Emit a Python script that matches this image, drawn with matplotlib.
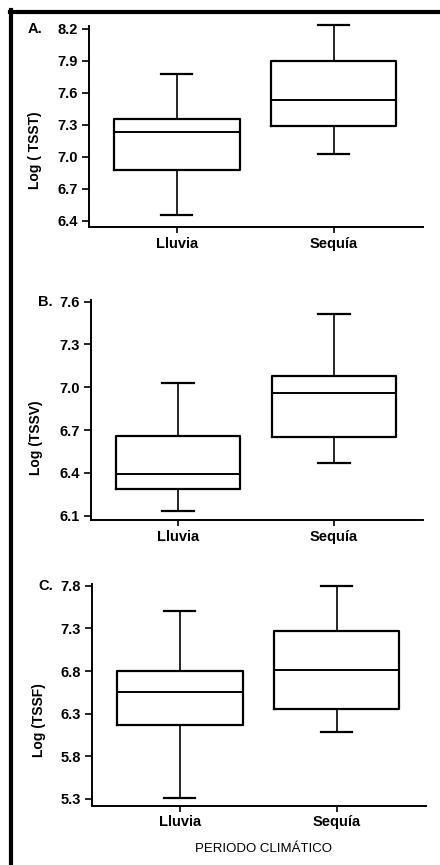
import matplotlib
matplotlib.use("Agg")
import matplotlib.pyplot as plt
from matplotlib.transforms import blended_transform_factory
from matplotlib.lines import Line2D

plt.rcParams["font.family"] = ["Liberation Sans", "DejaVu Sans"]

categories = ["Lluvia", "Sequía"]

# A. Log (TSST)
tsst_whislo = [6.45, 7.02]
tsst_q1 = [6.87, 7.29]
tsst_med = [7.23, 7.53]
tsst_q3 = [7.35, 7.90]
tsst_whishi = [7.77, 8.23]
tsst_ticks = [6.4, 6.7, 7.0, 7.3, 7.6, 7.9, 8.2]

# B. Log (TSSV)
tssv_whislo = [6.135, 6.47]
tssv_q1 = [6.285, 6.65]
tssv_med = [6.39, 6.96]
tssv_q3 = [6.66, 7.08]
tssv_whishi = [7.03, 7.51]
tssv_ticks = [6.1, 6.4, 6.7, 7.0, 7.3, 7.6]

# C. Log (TSSF)
tssf_whislo = [5.31, 6.08]
tssf_q1 = [6.165, 6.36]
tssf_med = [6.56, 6.81]
tssf_q3 = [6.80, 7.27]
tssf_whishi = [7.50, 7.80]
tssf_ticks = [5.3, 5.8, 6.3, 6.8, 7.3, 7.8]

paneles = [
    ("A.", "Log ( TSST)", tsst_whislo, tsst_q1, tsst_med, tsst_q3, tsst_whishi, tsst_ticks, (6.34, 8.22)),
    ("B.", "Log (TSSV)", tssv_whislo, tssv_q1, tssv_med, tssv_q3, tssv_whishi, tssv_ticks, (6.07, 7.61)),
    ("C.", "Log (TSSF)", tssf_whislo, tssf_q1, tssf_med, tssf_q3, tssf_whishi, tssf_ticks, (5.22, 7.82)),
]

# Achsenpositionen in Pixeln: links, rechts, oben, unten
W, H = 440, 865
rects_px = [(89, 423, 26.4, 227), (90.7, 423, 300.2, 520), (92, 426, 584.2, 805.7)]
letra_x = [-0.162, -0.138, -0.138]
ylabel_pos = [(-0.162, 0.384), (-0.165, 0.373), (-0.158, 0.388)]

fig = plt.figure(figsize=(4.4, 8.65), dpi=100)

for i, (letra, ylab, lo, q1, med, q3, hi, ticks, ylim) in enumerate(paneles):
    l, r, t, b = rects_px[i]
    ax = fig.add_axes([l / W, 1 - b / H, (r - l) / W, (b - t) / H])

    stats = []
    for j, cat in enumerate(categories):
        stats.append({"label": cat, "whislo": lo[j], "q1": q1[j], "med": med[j],
                      "q3": q3[j], "whishi": hi[j], "fliers": []})

    parts = ax.bxp(stats, positions=[1, 2], widths=0.8, capwidths=0.2, showfliers=False,
                   boxprops=dict(color="black", linewidth=1.6),
                   medianprops=dict(color="black", linewidth=1.4),
                   whiskerprops=dict(color="black", linewidth=1.2),
                   capprops=dict(color="black", linewidth=1.6))
    for key in parts:
        for art in parts[key]:
            art.set_clip_on(False)

    ax.set_xlim(0.44, 2.57)
    ax.set_ylim(*ylim)
    ax.set_yticks(ticks)
    ax.set_yticklabels([f"{v:.1f}" for v in ticks])
    ax.set_xticks([1, 2])
    ax.set_xticklabels(categories)

    for s in ["top", "right"]:
        ax.spines[s].set_visible(False)
    for s in ["left", "bottom"]:
        ax.spines[s].set_linewidth(1.4)
    ax.tick_params(axis="y", length=5, width=1.2, pad=3, labelsize=10.5)
    ax.tick_params(axis="x", length=4.5, width=1.2, pad=2.5, labelsize=10.5)
    for lab in ax.get_yticklabels() + ax.get_xticklabels():
        lab.set_fontweight("bold")

    ax.set_ylabel(ylab, fontsize=10, fontweight="bold", va="center")
    ax.yaxis.set_label_coords(*ylabel_pos[i])

    trans = blended_transform_factory(ax.transAxes, ax.transData)
    ax.text(letra_x[i], ticks[-1], letra, transform=trans, ha="center", va="center",
            fontsize=10.5, fontweight="bold")

    if i == 2:
        ax.set_xlabel("PERIODO CLIMÁTICO", fontsize=9.5)
        ax.xaxis.set_label_coords(0.512, -0.167)

# Rahmen links und oben wie im Scan
fig.add_artist(Line2D([11 / W, 11 / W], [0, 1 - 10 / H], color="black", linewidth=3,
                      transform=fig.transFigure))
fig.add_artist(Line2D([9.5 / W, 1], [1 - 12 / H, 1 - 12 / H], color="black", linewidth=3,
                      transform=fig.transFigure))

fig.savefig("out.png", dpi=100)
